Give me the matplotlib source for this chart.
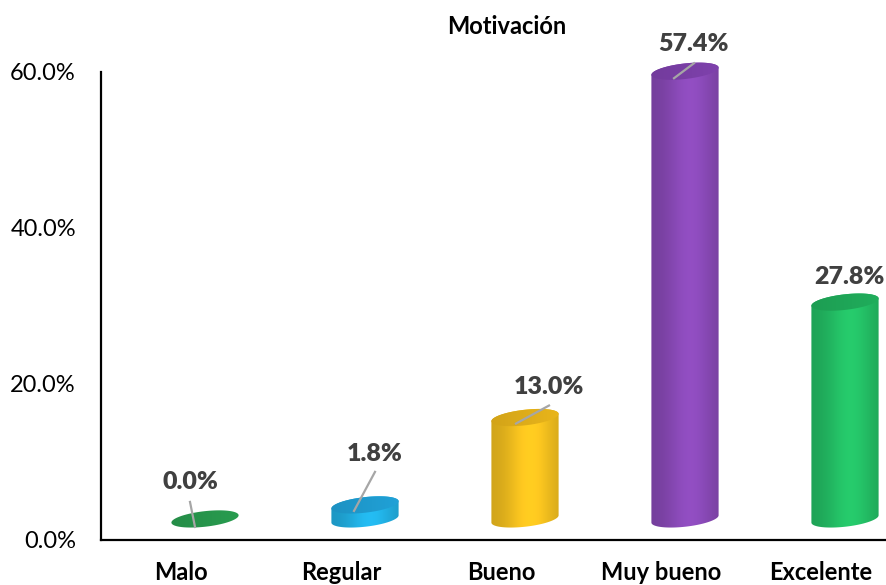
import numpy as np
import matplotlib
matplotlib.use("Agg")
import matplotlib.pyplot as plt
from matplotlib.path import Path
from matplotlib.patches import PathPatch
from matplotlib.colors import to_rgb
from matplotlib.ticker import FuncFormatter

# ---- data ----
title = "Motivación"
categories = ["Malo", "Regular", "Bueno", "Muy bueno", "Excelente"]
values = [0.0, 1.8, 13.0, 57.4, 27.8]
value_labels = ["0.0%", "1.8%", "13.0%", "57.4%", "27.8%"]
body_colors = ["#2ea356", "#22b2e6", "#f6c21f", "#8a4ab8", "#24c066"]
top_colors = ["#27964c", "#1f9bcf", "#e0ae1a", "#7a3fa6", "#1fa758"]
y_ticks = [0, 20, 40, 60]

# ---- layout (pixels / offsets) ----
W, H, DPI = 887, 585, 100
label_off = [(-15, 37), (10, 51), (24, 31), (8, 27), (4, 25)]
leaders = [((-15, 17), (-10, -8)), ((10, 33), (-11, -6)), ((24, 12), (-9, -6)),
           ((9, 8), (-11, -7)), None]

plt.rcParams['font.family'] = ['Lato', 'DejaVu Sans']
fig = plt.figure(figsize=(W / DPI, H / DPI), dpi=DPI)
left, right, top, bottom = 101, 887, 72, 540
ax = fig.add_axes([left / W, 1 - bottom / H, (right - left) / W, (bottom - top) / H])
ax.set_xlim(-0.5, 4.5 - 14 / 160)
ax.set_ylim(0, 60)
for s in ["top", "right"]:
    ax.spines[s].set_visible(False)
for s in ["left", "bottom"]:
    ax.spines[s].set_linewidth(1.6)
    ax.spines[s].set_color("black")
ax.set_yticks(y_ticks)
ax.yaxis.set_major_formatter(FuncFormatter(lambda v, p: f"{v:.1f}%"))
ax.tick_params(axis="y", length=0, pad=18, labelsize=17, labelcolor="black")
ax.set_xticks(range(len(categories)))
ax.set_xticklabels(categories, fontweight="bold", fontsize=17)
ax.tick_params(axis="x", length=0, pad=15)
fig.text(507 / W, 1 - 27 / H, title, ha="center", va="center", fontweight="bold", fontsize=17)

# cylinder geometry in data units
dx_off, dy_off = 0.15, 2.7
a, b = 0.21, 1.0
k = 0.12 * (160 / 7.8) * 0.9  # shear (right side higher)


def ell(cx, cy, t):
    x = cx + a * np.cos(t)
    y = cy + b * np.sin(t) + k * (x - cx)
    return x, y


def shade(rgb, u):
    prof = 0.84 + 0.22 * np.exp(-((u - 0.58) / 0.34) ** 2)
    return np.clip(np.outer(prof, rgb), 0, 1)


for i, v in enumerate(values):
    cx = i + dx_off
    y0 = dy_off
    y1 = v + dy_off
    base = np.array(to_rgb(body_colors[i]))
    topc = np.array(to_rgb(top_colors[i]))
    u = np.linspace(0, 1, 200)
    if v > 0:
        tb = np.linspace(np.pi, 2 * np.pi, 80)
        tt = np.linspace(0, np.pi, 80)
        xb, yb = ell(cx, y0, tb)
        xt, yt = ell(cx, y1, tt)
        verts = np.vstack([np.column_stack([xb, yb]), np.column_stack([xt, yt]), [[xb[0], yb[0]]]])
        patch = PathPatch(Path(verts, closed=True), facecolor="none", edgecolor="none", clip_on=False)
        ax.add_patch(patch)
        img = shade(base, u)[None, :, :]
        im = ax.imshow(img, extent=[cx - a, cx + a, y0 - b - k * a, y1 + b + k * a],
                       aspect="auto", zorder=2, interpolation="bilinear")
        im.set_clip_box(fig.bbox)
        im.set_clip_path(patch)
    # top ellipse
    t = np.linspace(0, 2 * np.pi, 160)
    xt, yt = ell(cx, y1, t)
    tpatch = PathPatch(Path(np.column_stack([xt, yt]), closed=True),
                       facecolor="none", edgecolor="none", clip_on=False)
    ax.add_patch(tpatch)
    tprof = 0.94 + 0.10 * u
    timg = np.clip(np.outer(tprof, topc), 0, 1)[None, :, :]
    im2 = ax.imshow(timg, extent=[cx - a, cx + a, y1 - b - k * a, y1 + b + k * a],
                    aspect="auto", zorder=3, interpolation="bilinear")
    im2.set_clip_box(fig.bbox)
    im2.set_clip_path(tpatch)

    # labels and leaders in pixel offsets
    px, py = ax.transData.transform((cx, y1))
    lx, ly = label_off[i]
    fig.text((px + lx) / W, (py + ly) / H, value_labels[i], ha="center", va="center",
             fontsize=18, fontweight="heavy", color="#404040", zorder=5)
    if leaders[i] is not None:
        (sx, sy), (ex, ey) = leaders[i]
        ln = plt.Line2D([(px + sx) / W, (px + ex) / W], [(py + sy) / H, (py + ey) / H],
                        transform=fig.transFigure, color="#a6a6a6", lw=1.6, zorder=6)
        fig.add_artist(ln)

ax.set_xlim(-0.5, 4.5 - 14 / 160)
ax.set_ylim(0, 60)
fig.savefig("out.png", dpi=DPI)
